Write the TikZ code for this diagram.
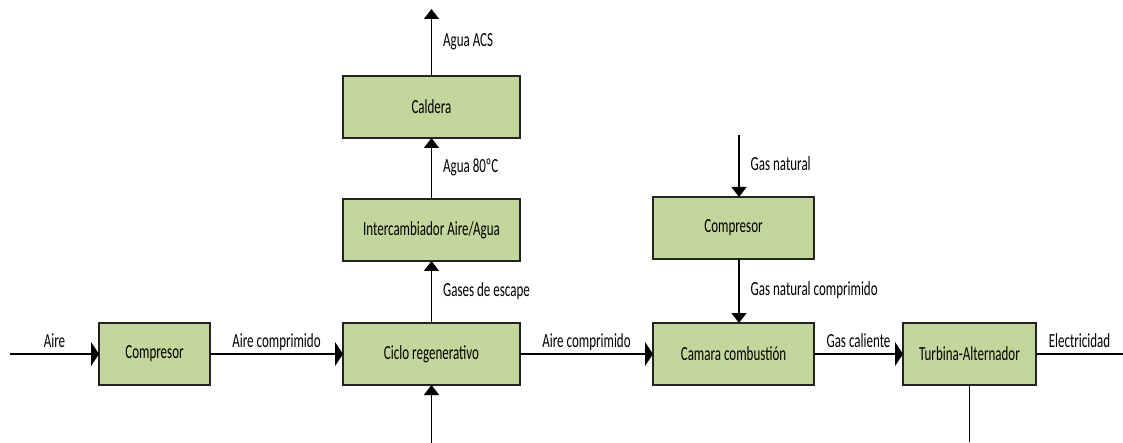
\documentclass[tikz,border=0pt]{standalone}
\usepackage{fontspec}
\setmainfont{Carlito}[FakeStretch=0.65]
\usepackage{tikz}
\usetikzlibrary{arrows.meta}
\usetikzlibrary{positioning}
\definecolor{boxgreen}{RGB}{195,214,155}
\definecolor{boxline}{RGB}{35,35,35}
\newcommand\mybox[4][]{%
  \node[mybox,#1,minimum width=#2] (#3) {#4};
}

\begin{document}
\begin{tikzpicture}[
x=1pt,y=-1pt,
font=\fontsize{20}{24}\selectfont,
mybox/.style={
  rectangle,
  draw=boxline,
  line width=1.6pt,
  outer sep=0pt,
  fill=boxgreen,
  minimum height=62pt,
  text centered},
flow/.style={line width=1.3pt},
harrow/.style={flow,-{Triangle[length=8pt,width=24pt]}},
varrow/.style={flow,-{Triangle[length=10pt,width=15pt]}},
lbl/.style={anchor=base,yshift=7pt,inner sep=0pt},
vlbl/.style={anchor=mid west,xshift=11pt,yshift=-2pt,inner sep=0pt}
]
\useasboundingbox (0,0) rectangle (1123,443);
% main row
\mybox[at={(154.5,354)}]{111pt}{comp1}{Compresor}
\mybox[right=133pt of comp1]{177pt}{ciclo}{Ciclo regenerativo}
\mybox[right=133pt of ciclo]{161pt}{camara}{Camara combusti\'on}
\mybox[right=89pt of camara]{133pt}{turbina}{Turbina-Alternador}
% water branch
\mybox[above=62pt of ciclo]{177pt}{inter}{Intercambiador Aire/Agua}
\mybox[above=61pt of inter]{177pt}{caldera}{Caldera}
% gas branch
\mybox[above=64pt of camara]{161pt}{comp2}{Compresor}
% free ends
\coordinate[left=89pt of comp1] (airin);
\coordinate[right=87pt of turbina] (elecout);
\coordinate[above=67pt of caldera] (acsout);
\coordinate[below=58pt of ciclo] (cicloin);
\coordinate[below=57pt of turbina] (turbout);
\coordinate (gasin) at (739,135);
\draw [harrow] (airin) -- node[lbl]{Aire} (comp1);
\draw [harrow] (comp1) -- node[lbl]{Aire comprimido} (ciclo);
\draw [harrow] (ciclo) -- node[lbl]{Aire comprimido} (camara);
\draw [harrow] (camara) -- node[lbl]{Gas caliente} (turbina);
\draw [flow] (turbina) -- node[lbl]{Electricidad} (elecout);
\draw [varrow] (ciclo) -- node[vlbl]{Gases de escape} (inter);
\draw [varrow] (inter) -- node[vlbl]{Agua 80ºC} (caldera);
\draw [varrow] (caldera) -- node[vlbl]{Agua ACS} (acsout);
\draw [varrow] (gasin) -- node[vlbl]{Gas natural} (gasin |- comp2.north);
\draw [varrow] (gasin |- comp2.south) -- node[vlbl]{Gas natural comprimido} (gasin |- camara.north);
\draw [varrow] (cicloin) -- (ciclo);
\draw [flow] (turbina) -- (turbout);
\end{tikzpicture}
\end{document}
